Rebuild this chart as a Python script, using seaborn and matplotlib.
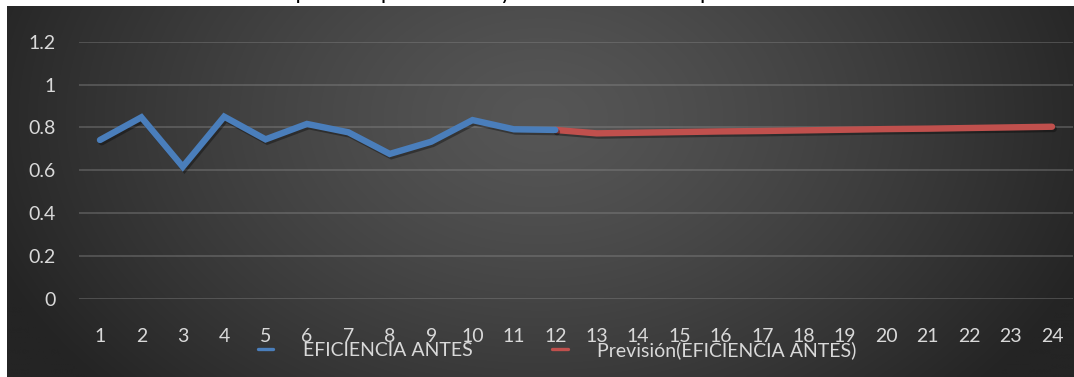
import numpy as np
import pandas as pd
import matplotlib
matplotlib.use("Agg")
import matplotlib.pyplot as plt
import matplotlib.patheffects as pe
from matplotlib.lines import Line2D
import seaborn as sns

# ---- data -------------------------------------------------------------
periods = list(range(1, 25))
eff_periods = list(range(1, 13))
eff_values = [0.741, 0.847, 0.616, 0.850, 0.744, 0.816,
              0.777, 0.676, 0.733, 0.834, 0.791, 0.788]
fc_periods = list(range(12, 25))
fc_values = [0.788, 0.772, 0.775, 0.778, 0.781, 0.783, 0.786,
             0.789, 0.792, 0.794, 0.797, 0.800, 0.803]
y_ticks = [0, 0.2, 0.4, 0.6, 0.8, 1, 1.2]
y_tick_labels = ["0", "0.2", "0.4", "0.6", "0.8", "1", "1.2"]
series_names = ["EFICIENCIA ANTES", "Previsión(EFICIENCIA ANTES)"]
title_text = "Eficiencia operativa por semana y su tendencia en el periodo"

BLUE = "#4a7ebb"
RED = "#c0504d"
TEXT = "#d9d9d9"
FS = 14

sns.set_theme(style="dark")
plt.rcParams["font.family"] = ["Lato", "DejaVu Sans"]

W, H = 1074, 377
fig = plt.figure(figsize=(W / 100, H / 100), dpi=100, facecolor="white")

# ---- dark radial-gradient chart area ----------------------------------
bg = fig.add_axes([7 / W, 0, 1 - 7 / W, (H - 6) / H], zorder=0)
gx, gy = np.meshgrid(np.linspace(0, 1, 600), np.linspace(0, 1, 220))
r = np.sqrt(((gx - 0.5) / 0.55) ** 2 + ((gy - 0.3) / 1.1) ** 2)
r = np.clip(r, 0, 1)
lum = (86 - 50 * r ** 1.3) / 255.0
bg.imshow(np.dstack([lum, lum, lum]), aspect="auto", extent=(0, 1, 0, 1),
          origin="upper", interpolation="bilinear")
bg.set_axis_off()

# ---- plot area ----------------------------------------------------------
ax = fig.add_axes([79.3 / W, (H - 298.7) / H, 993.4 / W, 257 / H], zorder=2)
ax.patch.set_alpha(0)

shadow = [pe.SimpleLineShadow(offset=(1.2, -1.6), shadow_color="black", alpha=0.35),
          pe.Normal()]

df_eff = pd.DataFrame({"period": eff_periods, "value": eff_values})
df_fc = pd.DataFrame({"period": fc_periods, "value": fc_values})
sns.lineplot(data=df_fc, x="period", y="value", ax=ax, color=RED, lw=4.6,
             solid_capstyle="round", path_effects=shadow, zorder=3)
sns.lineplot(data=df_eff, x="period", y="value", ax=ax, color=BLUE, lw=4.6,
             solid_capstyle="round", solid_joinstyle="miter",
             path_effects=shadow, zorder=4)

ax.set_xlim(0.5, 24.5)
ax.set_ylim(0, 1.2)
ax.set_xticks(periods)
ax.set_xticklabels([str(p) for p in periods])
ax.set_yticks(y_ticks)
ax.set_yticklabels(y_tick_labels)
ax.set_xlabel("")
ax.set_ylabel("")
ax.grid(axis="y", color="#8a8a8a", alpha=0.45, lw=1.2)
ax.grid(axis="x", visible=False)
for s in ax.spines.values():
    s.set_visible(False)
ax.tick_params(axis="y", length=0, pad=17, labelsize=FS, labelcolor=TEXT)
ax.tick_params(axis="x", length=0, pad=21, labelsize=FS, labelcolor=TEXT)

# ---- legend -------------------------------------------------------------
handles = [Line2D([], [], color=BLUE, lw=2.4), Line2D([], [], color=RED, lw=2.4)]
leg = fig.legend(handles, series_names, loc="center", ncol=2,
                 bbox_to_anchor=(557 / W, (H - 350) / H), frameon=False,
                 fontsize=FS, handlelength=0.8, handletextpad=1.5,
                 columnspacing=4.1, labelcolor=TEXT)

# ---- title, running past the top edge ------------------------------------
fig.text(480 / W, 1 + 1.0 / H, title_text, ha="center", va="baseline",
         fontsize=16, color="black")

fig.savefig("out.png", dpi=100, facecolor="white")
